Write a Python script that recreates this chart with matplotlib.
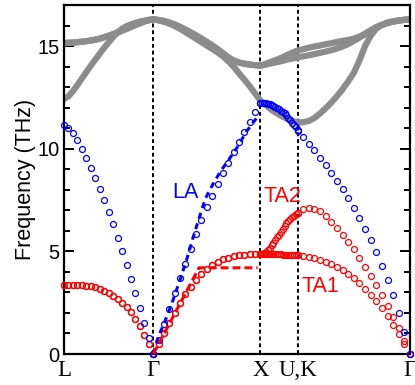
import matplotlib.pyplot as plt
import numpy as np
from matplotlib.ticker import MultipleLocator

# high-symmetry path L-G-X-U|K-G, segment lengths in units of 2pi/a
labels = ['L', 'Γ', 'X', 'U,K', 'Γ']
seg_len = [0.835, 1.0, 0.349, 1.05]

# acoustic branches (THz), 21 q-points per segment
la = [
    [11.15, 11.03, 10.76, 10.42, 9.98, 9.53, 9.06, 8.56, 8.02, 7.50, 6.90,
     6.31, 5.66, 5.01, 4.35, 3.67, 2.95, 2.25, 1.49, 0.76, 0.0],
    [0.0, 0.7, 1.45, 2.2, 2.95, 3.68, 4.4, 5.12, 5.83, 6.52, 7.15,
     7.72, 8.27, 8.8, 9.32, 9.83, 10.33, 10.83, 11.3, 11.77, 12.25],
    [12.25, 12.25, 12.23, 12.21, 12.19, 12.16, 12.14, 12.1, 12.04, 11.99, 11.92,
     11.86, 11.8, 11.72, 11.63, 11.5, 11.38, 11.27, 11.16, 11.05, 10.9],
    [10.88, 10.57, 10.25, 9.92, 9.57, 9.21, 8.83, 8.43, 8.02, 7.58, 7.12,
     6.63, 6.11, 5.55, 4.95, 4.3, 3.6, 2.85, 2.0, 1.05, 0.0],
]
ta_lg = [3.38, 3.38, 3.38, 3.37, 3.35, 3.33, 3.30, 3.25, 3.18, 3.09, 2.97,
         2.84, 2.68, 2.50, 2.29, 2.05, 1.72, 1.35, 0.95, 0.5, 0.0]
ta_gx = [0.0, 0.5, 1.02, 1.53, 2.02, 2.48, 2.9, 3.27, 3.6, 3.89, 4.13,
         4.33, 4.49, 4.61, 4.7, 4.77, 4.81, 4.84, 4.85, 4.85, 4.85]
ta1 = [
    ta_lg,
    ta_gx,
    [4.85, 4.85, 4.85, 4.85, 4.85, 4.85, 4.85, 4.85, 4.85, 4.85, 4.85,
     4.85, 4.84, 4.84, 4.84, 4.84, 4.83, 4.83, 4.83, 4.83, 4.83],
    [4.83, 4.79, 4.74, 4.67, 4.59, 4.5, 4.39, 4.25, 4.09, 3.9, 3.68,
     3.44, 3.17, 2.88, 2.57, 2.23, 1.85, 1.43, 0.98, 0.5, 0.0],
]
ta2 = [
    ta_lg,
    ta_gx,
    [4.85, 4.87, 4.9, 4.95, 5.05, 5.17, 5.3, 5.42, 5.55, 5.68, 5.82,
     5.96, 6.1, 6.24, 6.37, 6.48, 6.57, 6.66, 6.74, 6.81, 6.87],
    [6.88, 7.06, 7.13, 7.08, 6.95, 6.73, 6.44, 6.12, 5.78, 5.45, 5.1,
     4.68, 4.26, 3.82, 3.36, 2.88, 2.35, 1.8, 1.25, 0.62, 0.0],
]

# optical branches (THz)
to1 = [
    [15.15, 15.16, 15.17, 15.19, 15.21, 15.24, 15.27, 15.31, 15.36, 15.43, 15.5,
     15.58, 15.66, 15.75, 15.84, 15.93, 16.02, 16.11, 16.2, 16.26, 16.3],
    [16.3, 16.27, 16.22, 16.14, 16.05, 15.93, 15.8, 15.66, 15.52, 15.36, 15.2,
     15.03, 14.85, 14.65, 14.45, 14.3, 14.2, 14.14, 14.1, 14.07, 14.05],
    [14.05, 14.1, 14.17, 14.24, 14.31, 14.38, 14.46, 14.55, 14.63, 14.71, 14.78],
    [14.78, 14.85, 14.92, 14.98, 15.03, 15.09, 15.14, 15.2, 15.25, 15.3, 15.36,
     15.46, 15.6, 15.76, 15.92, 16.03, 16.12, 16.19, 16.24, 16.28, 16.3],
]
to2 = [
    to1[0],
    to1[1],
    [14.05, 14.08, 14.12, 14.16, 14.2, 14.24, 14.28, 14.33, 14.37, 14.41, 14.45],
    [14.45, 14.5, 14.55, 14.61, 14.67, 14.73, 14.8, 14.88, 14.98, 15.1, 15.25,
     15.41, 15.58, 15.76, 15.92, 16.03, 16.12, 16.19, 16.24, 16.28, 16.3],
]
lo = [
    [12.42, 12.55, 12.8, 13.1, 13.42, 13.73, 14.04, 14.34, 14.63, 14.92, 15.18,
     15.44, 15.67, 15.84, 15.97, 16.06, 16.13, 16.19, 16.24, 16.28, 16.3],
    [16.3, 16.25, 16.18, 16.09, 15.98, 15.84, 15.68, 15.52, 15.35, 15.19, 15.02,
     14.86, 14.7, 14.5, 14.27, 14.0, 13.68, 13.37, 13.05, 12.7, 12.35],
    [12.35, 12.2, 12.05, 11.9, 11.77, 11.66, 11.56, 11.47, 11.39, 11.33, 11.28],
    [11.28, 11.29, 11.35, 11.5, 11.72, 11.97, 12.25, 12.56, 12.9, 13.28, 13.7,
     14.3, 15.0, 15.5, 15.85, 16.03, 16.15, 16.21, 16.25, 16.28, 16.3],
]

# dashed curves along G-X (path coordinate, THz)
la_dash_q = [0.835, 0.881, 0.944, 1.007, 1.084, 1.147, 1.208, 1.271, 1.324,
             1.395, 1.467, 1.545, 1.623, 1.707, 1.794, 1.81]
la_dash_f = [0.0, 0.84, 1.6, 2.45, 3.6, 4.6, 5.7, 6.75, 7.6,
             8.3, 8.93, 9.5, 10.1, 10.85, 11.45, 11.55]
ta_dash_q = [0.835, 1.262, 1.81]
ta_dash_f = [0.0, 4.2, 4.2]

ticks = np.concatenate([[0], np.cumsum(seg_len)])

fig = plt.figure(figsize=(4.15, 3.85), dpi=100)
ax = fig.add_axes([0.1542, 0.0805, 0.8337, 0.9065])


def seg_q(s, n):
    return ticks[s] + np.linspace(0, seg_len[s], n)


gray = '#8c8c8c'
for br in (lo, to2, to1):
    for s in range(4):
        ax.plot(seg_q(s, len(br[s])), br[s], color=gray, lw=4.5,
                solid_capstyle='round', solid_joinstyle='round', zorder=2)

circ = dict(ls='none', marker='o', ms=4.3, mfc='none', mew=0.9,
            clip_on=False, zorder=3)
for s in range(4):
    ax.plot(seg_q(s, len(ta1[s])), ta1[s], mec='red', **circ)
    ax.plot(seg_q(s, len(ta2[s])), ta2[s], mec='red', **circ)
for s in range(4):
    ax.plot(seg_q(s, len(la[s])), la[s], mec='blue', **circ)

ax.plot(la_dash_q, la_dash_f, color='blue', lw=2.2, ls=(0, (2.0, 1.6)), zorder=4)
ax.plot(ta_dash_q, ta_dash_f, color='red', lw=2.2, ls=(0, (2.6, 1.3)), zorder=4)

for t in ticks[1:-1]:
    ax.axvline(t, color='k', lw=1.4, ls=(0, (2.0, 1.5)), zorder=1)

ax.text(1.009, 7.62, 'LA', color='blue', fontsize=15.5,
        family='Liberation Sans', va='baseline', ha='left')
ax.text(1.863, 7.39, 'TA2', color='red', fontsize=15.5,
        family='Liberation Sans', va='baseline', ha='left')
ax.text(2.221, 3.02, 'TA1', color='red', fontsize=15.5,
        family='Liberation Sans', va='baseline', ha='left')

ax.set_xlim(ticks[0], ticks[-1])
ax.set_ylim(0, 17)
ax.set_xticks(ticks)
ax.set_xticklabels(labels, family='Liberation Serif', fontsize=16.5)
ax.set_yticks([0, 5, 10, 15])
ax.yaxis.set_minor_locator(MultipleLocator(1))
for lab in ax.get_yticklabels():
    lab.set_family('Liberation Sans')
    lab.set_fontsize(14.5)
ax.tick_params(axis='x', length=0, pad=4)
ax.tick_params(axis='y', which='both', direction='in', right=True, width=1.4)
ax.tick_params(axis='y', which='major', length=7, pad=3)
ax.tick_params(axis='y', which='minor', length=4)
for sp in ax.spines.values():
    sp.set_linewidth(1.6)

ax.set_ylabel('Frequency (THz)', family='Liberation Sans', fontsize=15.5, labelpad=1)

fig.savefig('out.png', dpi=100)
